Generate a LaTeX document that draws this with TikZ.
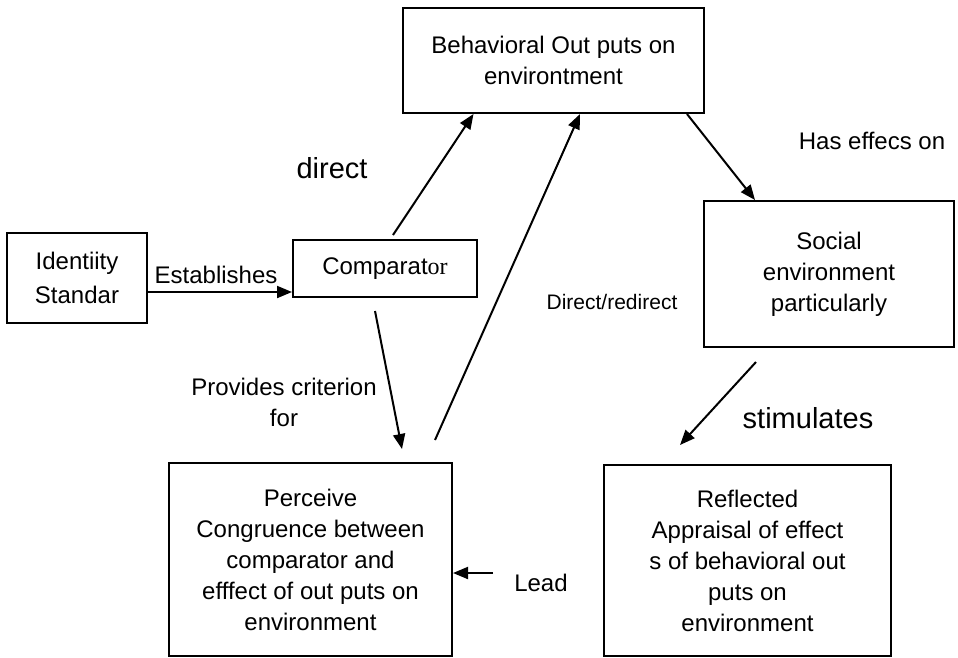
\documentclass[tikz,border=0pt]{standalone}
\usepackage{fontspec}
\setmainfont{Liberation Sans}
\newfontfamily\timesfont{Liberation Serif}
\usetikzlibrary{arrows.meta,positioning}
\tikzstyle{box} = [draw,line width=2pt,align=center,inner sep=0pt,font=\fontsize{24}{31}\selectfont]
\tikzstyle{edge} = [draw,line width=2pt,-{Triangle[length=15pt,width=12pt]}]
\tikzstyle{lbl} = [align=center,font=\fontsize{24}{31}\selectfont]

\begin{document}
\begin{tikzpicture}[x=1pt,y=-1pt]
   \useasboundingbox (0,0) rectangle (958,657);

   \node[box,minimum width=140pt,minimum height=90pt] (ident) at (77,278) {\rule{0pt}{12pt}Identiity\\[3pt]Standar};
   \node[box,minimum width=184pt,minimum height=57pt] (comp) at (385,268.5) {Comparat{\timesfont or}};
   \node[box,minimum width=301pt,minimum height=105pt] (behav) at (553.5,60.5) {Behavioral Out puts on\\environtment};
   \node[box,minimum width=250pt,minimum height=146pt] (social) at (829,274) {Social\\environment\\particularly};
   \node[box,minimum width=283pt,minimum height=193pt] (perceive) at (310.5,559.5) {Perceive\\Congruence between\\comparator and\\efffect of out puts on\\environment};
   \node[box,minimum width=287pt,minimum height=191pt] (reflect) at (747.5,560.5) {Reflected\\Appraisal of effect\\s of behavioral out\\puts on\\environment};

   \node[lbl] (estab) at (216,275) {Establishes};
   \node[lbl,font=\fontsize{29}{35}\selectfont] (direct) at (332,168) {direct};
   \node[lbl,font=\fontsize{21}{26}\selectfont] (redirect) at (612,302) {Direct/redirect};
   \node[lbl] (effects) at (872,141) {Has effecs on};
   \node[lbl] (criterion) at (284,402) {Provides criterion\\for};
   \node[lbl,font=\fontsize{29}{35}\selectfont] (stim) at (808,418) {stimulates};
   \node[lbl] (lead) at (541,583) {Lead};

   \coordinate (estabstart) at ([yshift=-14pt]ident.east);
   \coordinate (leadstart) at (493,573);

   \path[edge] (estabstart) -- (estabstart -| comp.west);
   \path[edge] ([xshift=8pt,yshift=4pt]comp.north) -- ([xshift=-80pt]behav.south);
   \path[edge] ([xshift=124.5pt,yshift=22pt]perceive.north) -- ([xshift=26.5pt]behav.south);
   \path[edge] ([xshift=133.5pt]behav.south) -- ([xshift=-74pt]social.north);
   \path[edge] ([xshift=-10pt,yshift=-13pt]comp.south) -- ([xshift=91.5pt,yshift=13pt]perceive.north);
   \path[edge] ([xshift=-73pt,yshift=-14pt]social.south) -- ([xshift=-67.5pt,yshift=19pt]reflect.north);
   \path[edge] (leadstart) -- (leadstart -| perceive.east);

\end{tikzpicture}
\end{document}
